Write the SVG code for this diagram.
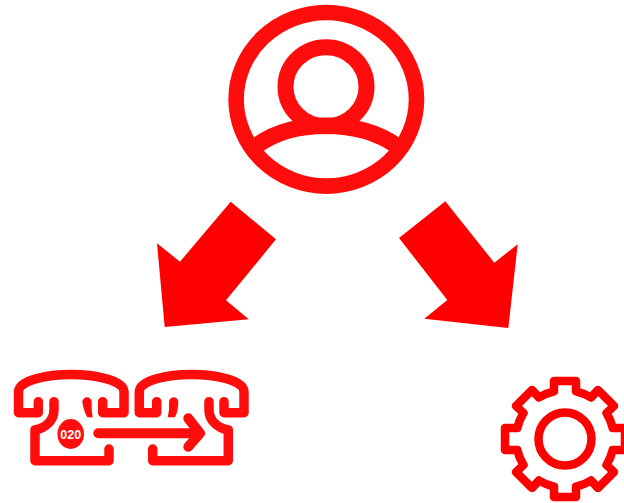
<svg xmlns="http://www.w3.org/2000/svg" width="624" height="503" viewBox="0 0 624 503">
<style>
.l{fill:none;stroke:#ff0d0d;stroke-linecap:round;stroke-linejoin:round}
.a{fill:#ff0000;stroke:none}
.p{stroke-width:9.5}
.f{fill:#ff0d0d;stroke:none}
</style>
<rect width="624" height="503" fill="#ffffff"/>
<g id="user">
<ellipse class="l" cx="326.3" cy="99.3" rx="90.2" ry="86.8" stroke-width="15.6"/>
<ellipse class="l" cx="326" cy="86.7" rx="40.5" ry="39.5" stroke-width="16"/>
<path class="l" style="stroke-linecap:butt" d="M256,146 C275,132 300,125.8 326,125.8 C352,125.8 377,132 397,146" stroke-width="16.6"/>
</g>
<g id="connectors">
<polygon class="a" points="230.7,201.7 276,239.3 226,300.3 248.7,319.3 164.7,327 157,243.3 180,261.7"/>
<polygon class="a" points="445.3,201.3 494.3,262.7 517.7,244.3 508.3,328 424.3,318.7 447.3,300 399,238"/>
</g>
<g id="phone-transfer">
<path class="l p" d="M38.3,401.7 V412.7 H18.5 V392 C18.5,380 48,374.5 71,374.5 C94,374.5 124,380 124,392 V412.7 H102.7 V401.7"/>
<path class="l p" d="M54,401.7 V410 C54,420 46,428 35,430 V460.7 H109 V449"/>
<path class="f" d="M82.3,402 a4.7,4.7 0 0 1 9.4,0 V410 L92.7,417.3 H87.3 Q84,412 82.3,402 Z"/>
<ellipse class="f" cx="70.7" cy="434" rx="13.3" ry="15"/>
<text x="70.7" y="438.5" text-anchor="middle" font-family="'Liberation Sans',Arial,sans-serif" font-weight="700" font-size="12.5" fill="#ffffff">020</text>
<path class="l p" d="M156.7,401.7 V412.7 H139.3 V392 C139.3,380 168,374.5 191.7,374.5 C215,374.5 244,380 244,392 V412.7 H224 V401.7"/>
<path class="l p" d="M209,401.7 V410 C209,420 217,428 228.3,430 V460.7 H152.7 V449"/>
<path class="f" d="M169,402 a4.7,4.7 0 0 1 9.4,0 Q178,412 175,417.3 H167.7 L169,410 Z"/>
<path class="l" stroke-width="10" d="M98.3,433.3 H198"/>
<path class="l" stroke-width="10" d="M188.3,418.3 L200,433.3 L188.3,446.7"/>
</g>
<g id="gear" transform="translate(565 439)">
<circle style="fill:none;stroke:#ff0000" r="26.5" stroke-width="8.5"/>
<path style="fill:none;stroke:#ff0000;stroke-width:8.5;stroke-linejoin:round" d="M-11,-47.7 V-58 H11 V-47.7 A49,49 0 0 1 26,-41.5 L33,-49 L49,-33 L41.5,-26 A49,49 0 0 1 47.7,-11 H60 V11 H47.7 A49,49 0 0 1 41.5,26 L49,33 L33,49 L26,41.5 A49,49 0 0 1 11,47.7 V58 H-11 V47.7 A49,49 0 0 1 -26,41.5 L-33,49 L-49,33 L-41.5,26 A49,49 0 0 1 -47.7,11 H-60 V-11 H-47.7 A49,49 0 0 1 -41.5,-26 L-49,-33 L-33,-49 L-26,-41.5 A49,49 0 0 1 -11,-47.7 Z"/>
</g>
</svg>
